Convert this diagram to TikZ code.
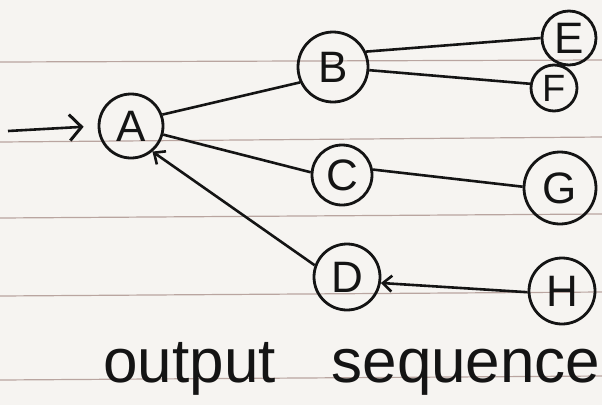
\documentclass[tikz,border=0pt]{standalone}
\usepackage{fontspec}
\setmainfont{Liberation Sans}
\usetikzlibrary{arrows.meta}
\definecolor{paper}{RGB}{246,244,241}
\definecolor{rule}{RGB}{185,165,160}
\definecolor{ink}{RGB}{20,20,20}
\tikzset{
  vert/.style={draw=ink, line width=2.8pt, circle, inner sep=0pt, text=ink,
    font=\fontsize{44}{46}\selectfont},
  edge/.style={draw=ink, line width=2.6pt},
  head/.style={-{Straight Barb[length=9pt,width=16pt,line width=2.6pt]}},
  bighead/.style={-{Straight Barb[length=12pt,width=26pt,line width=3pt]}},
  ruling/.style={draw=rule, line width=1.2pt}
}
\begin{document}
\begin{tikzpicture}[x=1pt,y=-1pt]
\fill[paper] (0,0) rectangle (602,405);
\useasboundingbox (0,0) rectangle (602,405);
% ruled lines
\draw[ruling] (0,62) -- (602,60);
\draw[ruling] (0,142) -- (602,137);
\draw[ruling] (0,218) -- (602,214);
\draw[ruling] (0,296) -- (602,292);
\draw[ruling] (0,380) -- (602,376);
% vertices
\node[vert, minimum size=64pt] (A) at (131,126) {A};
\node[vert, minimum size=70pt] (B) at (333,67) {B};
\node[vert, minimum size=54pt] (E) at (569,38) {E};
\node[vert, minimum size=46pt, font=\fontsize{38}{40}\selectfont] (F) at (554,88) {F};
\node[vert, minimum size=60pt] (C) at (342,175) {C};
\node[vert, minimum size=72pt] (G) at (560,188) {G};
\node[vert, minimum size=66pt] (D) at (347,277) {D};
\node[vert, minimum size=66pt] (H) at (562,291) {H};
% incoming arrow
\coordinate (in) at (8,131);
\draw[edge, bighead, shorten >=14pt] (in) -- (A.west);
% edges
\draw[edge] (A.20) -- (B.205);
\draw[edge] (A.-15) -- (C.175);
\draw[edge, head] (D.160) -- (A.-50);
\draw[edge] (B.25) -- (E.180);
\draw[edge] (B.-5) -- (F.170);
\draw[edge] (C.10) -- (G.178);
\draw[edge, head] (H.182) -- (D.-10);
% caption
\node[text=ink, font=\fontsize{62}{66}\selectfont, anchor=base] (cap) at (352,382) {output\hspace{0.9em}sequence};
\end{tikzpicture}
\end{document}
